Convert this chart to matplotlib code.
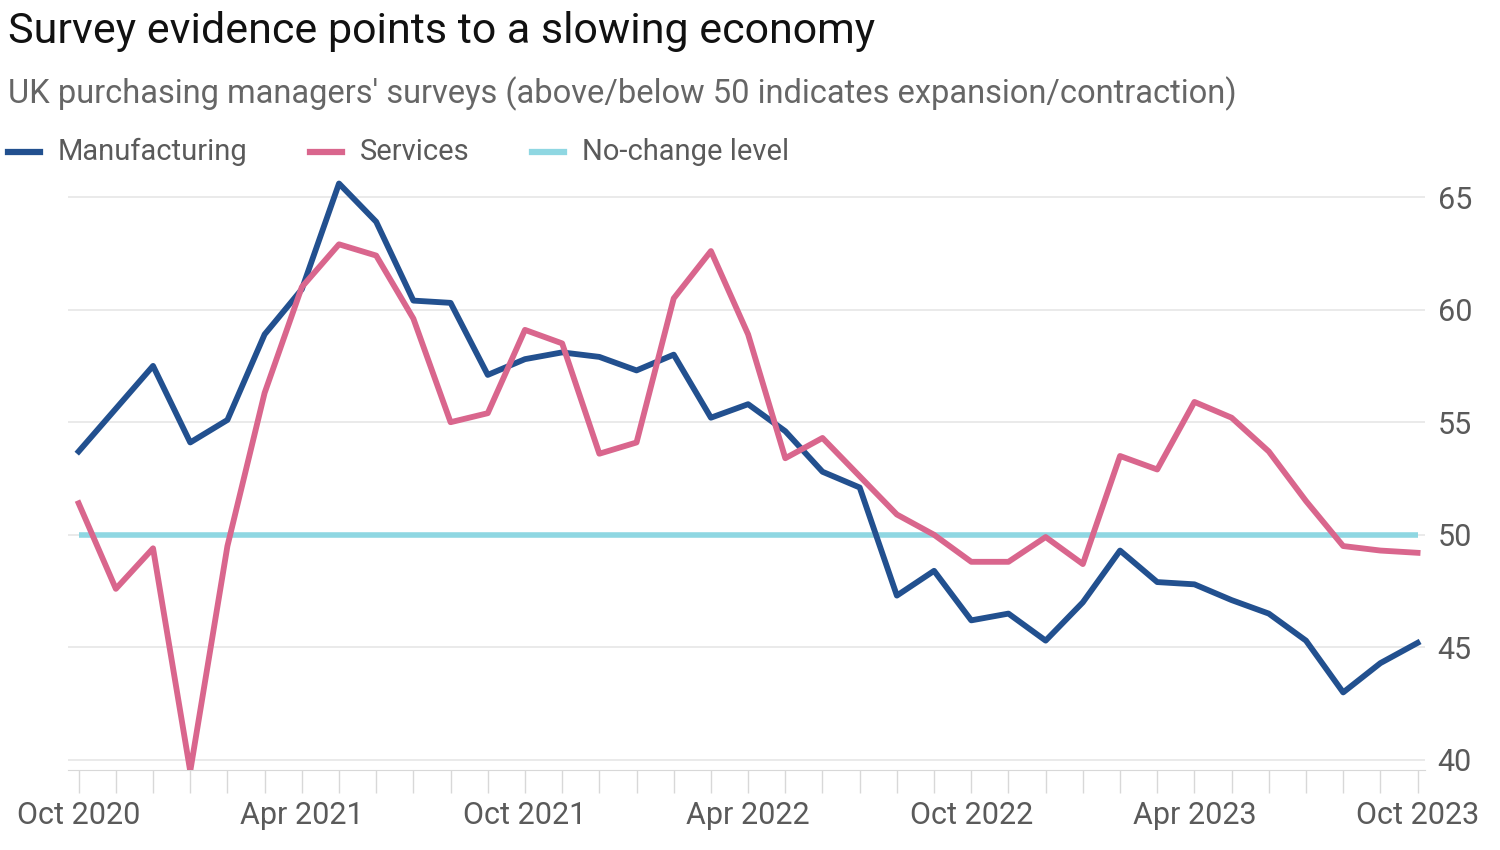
import matplotlib
matplotlib.use("Agg")
import matplotlib.pyplot as plt

plt.rcParams['font.family'] = ['Roboto', 'DejaVu Sans']

# monthly PMI readings, Oct 2020 .. Oct 2023
months = ["Oct 2020", "Nov 2020", "Dec 2020",
          "Jan 2021", "Feb 2021", "Mar 2021", "Apr 2021", "May 2021", "Jun 2021",
          "Jul 2021", "Aug 2021", "Sep 2021", "Oct 2021", "Nov 2021", "Dec 2021",
          "Jan 2022", "Feb 2022", "Mar 2022", "Apr 2022", "May 2022", "Jun 2022",
          "Jul 2022", "Aug 2022", "Sep 2022", "Oct 2022", "Nov 2022", "Dec 2022",
          "Jan 2023", "Feb 2023", "Mar 2023", "Apr 2023", "May 2023", "Jun 2023",
          "Jul 2023", "Aug 2023", "Sep 2023", "Oct 2023"]

manufacturing = [53.7, 55.6, 57.5, 54.1, 55.1, 58.9, 60.9, 65.6, 63.9, 60.4,
                 60.3, 57.1, 57.8, 58.1, 57.9, 57.3, 58.0, 55.2, 55.8, 54.6,
                 52.8, 52.1, 47.3, 48.4, 46.2, 46.5, 45.3, 47.0, 49.3, 47.9,
                 47.8, 47.1, 46.5, 45.3, 43.0, 44.3, 45.2]

services = [51.4, 47.6, 49.4, 39.5, 49.5, 56.3, 61.0, 62.9, 62.4, 59.6,
            55.0, 55.4, 59.1, 58.5, 53.6, 54.1, 60.5, 62.6, 58.9, 53.4,
            54.3, 52.6, 50.9, 50.0, 48.8, 48.8, 49.9, 48.7, 53.5, 52.9,
            55.9, 55.2, 53.7, 51.5, 49.5, 49.3, 49.2]

no_change = 50
y_ticks = [40, 45, 50, 55, 60, 65]

BLUE = "#22508f"
PINK = "#d9668d"
CYAN = "#8fd7e2"
GREY_TXT = "#5a5a5a"
GRID = "#e6e6e6"

fig = plt.figure(figsize=(15, 8.5), dpi=100)
ax = fig.add_axes([0.045, 0.094, 0.905, 0.706])

x = list(range(len(months)))
ax.plot(x, [no_change] * len(x), color=CYAN, lw=4, solid_capstyle='butt', zorder=2)
ax.plot(x, manufacturing, color=BLUE, lw=4.2, zorder=3)
ax.plot(x, services, color=PINK, lw=4.2, zorder=3)

ax.set_xlim(-0.3, 36.2)
ax.set_ylim(39.55, 66.2)

ax.set_yticks(y_ticks)
ax.yaxis.tick_right()
ax.tick_params(axis='y', length=0, pad=9, labelsize=22, labelcolor=GREY_TXT)
ax.grid(axis='y', color=GRID, lw=1.2)

ax.set_xticks(x)
ax.set_xticklabels([m if i % 6 == 0 else "" for i, m in enumerate(months)])
ax.tick_params(axis='x', length=16.5, width=1, color="#d8d8d8", pad=6,
               labelsize=22, labelcolor=GREY_TXT)

for s in ["top", "left", "right"]:
    ax.spines[s].set_visible(False)
ax.spines["bottom"].set_color("#d8d8d8")
ax.set_axisbelow(True)

# titles
fig.text(0.005, 0.963, "Survey evidence points to a slowing economy",
         fontsize=31, color="#111111", va="center")
fig.text(0.005, 0.89, "UK purchasing managers' surveys (above/below 50 indicates expansion/contraction)",
         fontsize=23.5, color="#666666", va="center")

# legend row
legend_items = [("Manufacturing", BLUE, 8), ("Services", PINK, 310), ("No-change level", CYAN, 532)]
for label, col, px in legend_items:
    fig.add_artist(plt.Line2D([px / 1500, (px + 32) / 1500], [0.821, 0.821],
                              color=col, lw=4.5, transform=fig.transFigure))
    fig.text((px + 50) / 1500, 0.821, label, fontsize=21, color=GREY_TXT, va="center")

fig.savefig("out.png", dpi=100, facecolor="white")
